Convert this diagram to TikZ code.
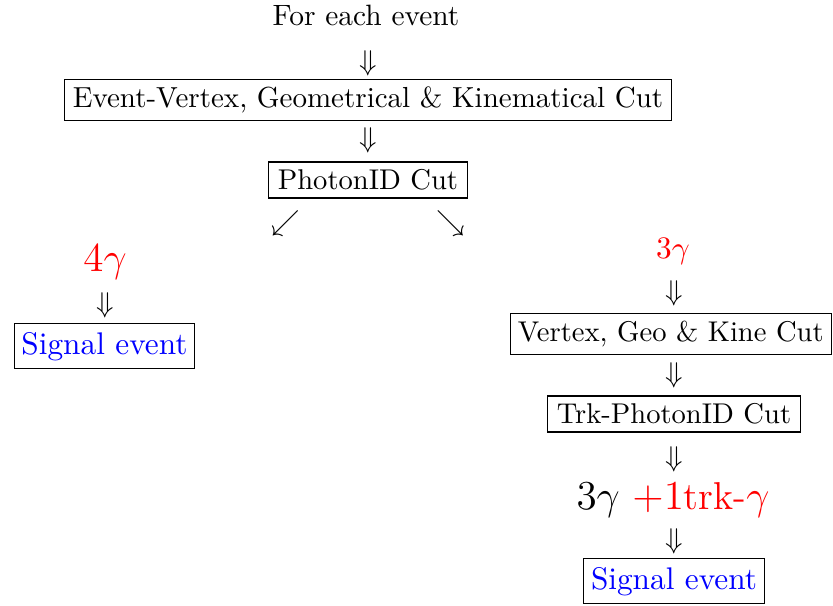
\documentclass[tikz,border=0pt]{standalone}
\usepackage{xcolor}
\begin{document}
\begin{tikzpicture}[x=0.35pt,y=-0.35pt,
  cutbox/.style={draw=black, line width=0.4pt, inner xsep=3.2pt, inner ysep=2.65pt,
    font=\fontsize{10}{12}\selectfont},
  sigbox/.style={draw=black, line width=0.4pt, inner xsep=2.6pt, inner ysep=2.95pt,
    text=blue, font=\fontsize{10.95}{13}\selectfont},
  lbl/.style={inner sep=0pt, anchor=base},
  arr/.style={inner sep=0pt, font=\fontsize{10}{12}\selectfont}]
\useasboundingbox (0,0) rectangle (833,606);

% main column
\node[lbl, font=\fontsize{10.3}{12}\selectfont] (title) at (366,26) {For each event};
\node[arr] (d1) at (368,63) {$\Downarrow$};
\node[cutbox, inner xsep=2.8pt, font=\fontsize{10.15}{12}\selectfont] (geo) at (368,100)
  {Event-Vertex, Geometrical \& Kinematical Cut};
\node[arr] (d2) at (368,140) {$\Downarrow$};
\node[cutbox] (pid) at (368,180) {PhotonID Cut};
\node[arr] (sw) at (285.5,223.5) {$\swarrow$};
\node[arr] (se) at (450.5,223.5) {$\searrow$};

% left branch
\node[lbl, text=red, font=\fontsize{14.4}{17}\selectfont] (four) at (105,272) {$4\gamma$};
\node[arr] (d3) at (105,305.5) {$\Downarrow$};
\node[sigbox] (sigl) at (104.5,346.2) {Signal event};

% right branch
\node[lbl, text=red, font=\fontsize{10.95}{13}\selectfont] (three) at (673,258.3) {$3\gamma$};
\node[arr] (d4) at (674,293) {$\Downarrow$};
\node[cutbox, inner xsep=2.6pt] (vgk) at (670.8,334.2) {Vertex, Geo \& Kine Cut};
\node[arr] (d5) at (674,375.5) {$\Downarrow$};
\node[cutbox] (trk) at (674,414) {Trk-PhotonID Cut};
\node[arr] (d6) at (674,459.5) {$\Downarrow$};
\node[lbl, font=\fontsize{13.6}{16}\selectfont] (comb) at (673,510)
  {$3\gamma$ \textcolor{red}{$+1$trk-$\gamma$}};
\node[arr] (d7) at (674,541.5) {$\Downarrow$};
\node[sigbox] (sigr) at (674,581.2) {Signal event};
\end{tikzpicture}
\end{document}
